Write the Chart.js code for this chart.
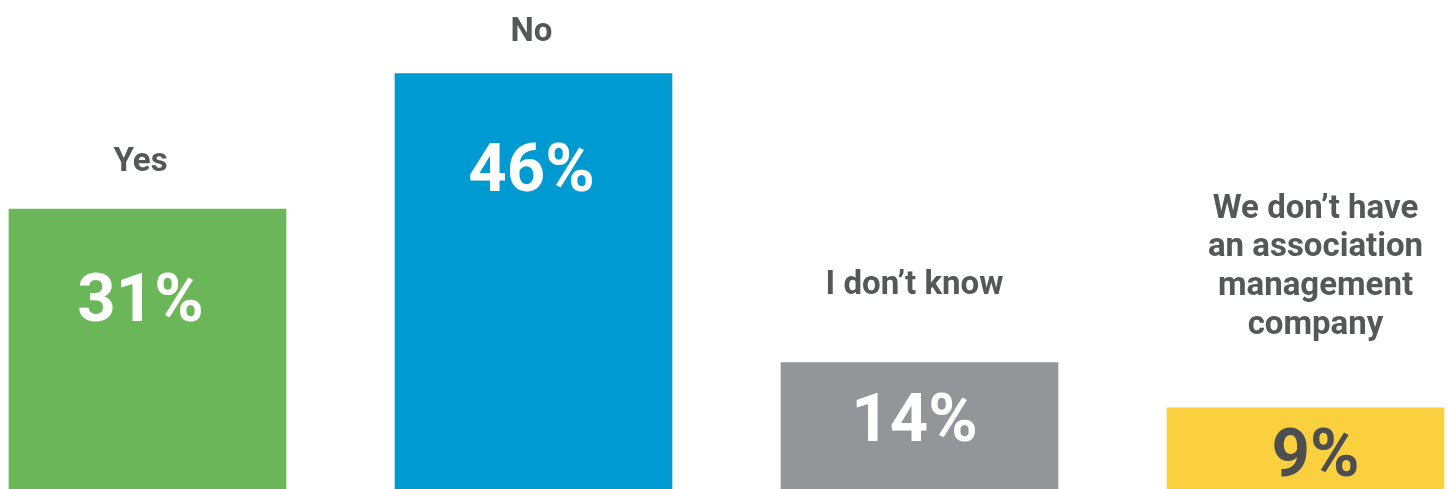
<!DOCTYPE html>
<html>
<head>
<meta charset="utf-8">
<script src="https://cdn.jsdelivr.net/npm/chart.js@4/dist/chart.umd.min.js"></script>
<style>
  html, body { margin: 0; padding: 0; background: #ffffff; }
  #wrap { position: relative; width: 1448px; height: 489px; }
</style>
</head>
<body>
<div id="wrap"><canvas id="c"></canvas></div>
<script>
const categories = [
  ["Yes"],
  ["No"],
  ["I don\u2019t know"],
  ["We don\u2019t have", "an association", "management", "company"]
];
const values = [31, 46, 14, 9];
const valueLabels = ["31%", "46%", "14%", "9%"];
const barColors = ["#6cb65a", "#009ad3", "#939598", "#fbd03e"];
const valueTextColors = ["#ffffff", "#ffffff", "#ffffff", "#4d4e50"];

const labelPlugin = {
  id: 'barLabels',
  afterDatasetsDraw(chart, args, opts) {
    const ctx = chart.ctx;
    const meta = chart.getDatasetMeta(0);
    const nx = opts.textNudgeX || [];
    const ny = opts.valueNudgeY || [];
    const gaps = opts.labelGap || [];
    meta.data.forEach((bar, i) => {
      const top = bar.y, base = bar.base;
      const x = bar.x + (nx[i] || 0);
      const h = base - top;
      ctx.save();
      ctx.textAlign = 'center';
      ctx.textBaseline = 'alphabetic';
      // value label
      ctx.font = 'bold 67px Roboto, "DejaVu Sans", sans-serif';
      const cap = ctx.measureText('0').actualBoundingBoxAscent;
      const center = Math.min(top + 91.5, top + h * 0.46) + (ny[i] || 0);
      const vBase = center + cap / 2;
      ctx.fillStyle = valueTextColors[i];
      ctx.fillText(valueLabels[i], x, vBase);
      // category label
      ctx.font = 'bold 33px Roboto, "DejaVu Sans", sans-serif';
      ctx.fillStyle = '#555759';
      const lines = categories[i];
      const lastBase = vBase - (gaps[i] || 150);
      const lh = 38.6;
      lines.forEach((ln, j) => {
        ctx.fillText(ln, x, lastBase - (lines.length - 1 - j) * lh);
      });
      ctx.restore();
    });
  }
};

new Chart(document.getElementById('c'), {
  type: 'bar',
  data: {
    labels: categories,
    datasets: [{
      data: values,
      backgroundColor: barColors,
      borderWidth: 0,
      barThickness: 277,
      clip: false
    }]
  },
  options: {
    responsive: true,
    maintainAspectRatio: false,
    animation: false,
    layout: { padding: { left: 147.5, right: 142.5, top: 0, bottom: 0 } },
    plugins: {
      legend: { display: false },
      tooltip: { enabled: false },
      barLabels: {
        textNudgeX: [-7, -2, -5, 10],
        valueNudgeY: [-4, 1, -4, 6],
        labelGap: [150, 150, 147, 142]
      }
    },
    scales: {
      x: { type: 'category', offset: false, display: false, grid: { display: false } },
      y: { display: false, min: 0, max: 54.15, grid: { display: false } }
    }
  },
  plugins: [labelPlugin]
});
</script>
</body>
</html>
